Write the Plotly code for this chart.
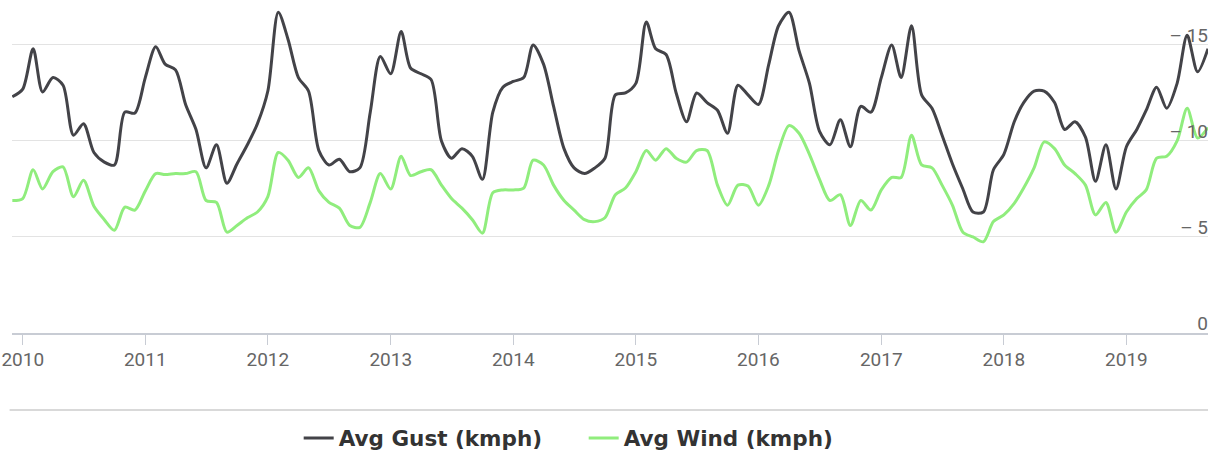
import pandas as pd
import plotly.graph_objects as go

# Monthly observations starting December 2009
months = pd.date_range("2009-12-01", periods=118, freq="MS")

avg_gust = [
    12.3, 12.7, 14.8, 12.55, 13.3, 12.9, 10.3, 10.9, 9.4, 8.9, 8.75, 11.5,
    11.45, 13.3, 14.9, 14.0, 13.7, 11.9, 10.6, 8.6, 9.8, 7.8, 8.8, 9.8,
    10.9, 12.6, 16.7, 15.3, 13.3, 12.6, 9.5, 8.75, 9.05, 8.4, 8.6, 11.5,
    14.4, 13.5, 15.7, 13.8, 13.5, 13.2, 10.0, 9.1, 9.6, 9.2, 8.0, 11.5,
    12.8, 13.1, 13.3, 15.0, 14.0, 11.8, 9.6, 8.6, 8.3, 8.6, 9.1, 12.4,
    12.5, 13.0, 16.2, 14.8, 14.5, 12.5, 11.0, 12.5, 12.0, 11.6, 10.4, 12.9,
    12.4, 11.9, 14.0, 16.0, 16.7, 14.7, 13.0, 10.5, 9.8, 11.1, 9.7, 11.8,
    11.5, 13.3, 15.0, 13.3, 16.0, 12.4, 11.7, 10.3, 8.8, 7.5, 6.3, 6.3,
    8.5, 9.3, 11.0, 12.0, 12.6, 12.6, 12.0, 10.6, 11.0, 10.2, 7.9, 9.8,
    7.5, 9.7, 10.6, 11.6, 12.8, 11.7, 13.0, 15.5, 13.6, 14.8,
]

avg_wind = [
    6.9, 7.0, 8.5, 7.5, 8.4, 8.65, 7.1, 7.95, 6.6, 5.9, 5.35, 6.55,
    6.4, 7.4, 8.3, 8.25, 8.3, 8.3, 8.4, 6.9, 6.8, 5.25, 5.6, 6.0,
    6.3, 7.1, 9.4, 9.0, 8.1, 8.6, 7.4, 6.8, 6.5, 5.6, 5.5, 6.8,
    8.3, 7.5, 9.2, 8.2, 8.4, 8.5, 7.7, 7.0, 6.5, 5.9, 5.2, 7.3,
    7.45, 7.45, 7.55, 9.0, 8.75, 7.7, 6.9, 6.4, 5.9, 5.8, 6.0, 7.2,
    7.55, 8.4, 9.5, 9.0, 9.6, 9.1, 8.9, 9.5, 9.5, 7.7, 6.65, 7.7,
    7.65, 6.65, 7.7, 9.5, 10.8, 10.4, 9.3, 8.0, 6.9, 7.2, 5.6, 6.9,
    6.4, 7.45, 8.1, 8.1, 10.3, 8.75, 8.6, 7.7, 6.65, 5.25, 5.0, 4.75,
    5.8, 6.15, 6.75, 7.55, 8.6, 9.95, 9.6, 8.75, 8.3, 7.7, 6.15, 6.8,
    5.25, 6.3, 7.0, 7.45, 9.1, 9.2, 10.0, 11.7, 10.15, 10.7,
]

x_tick_vals = [f"{y}-01-01" for y in range(2010, 2020)]
x_tick_text = [str(y) for y in range(2010, 2020)]
y_tick_vals = [0, 5, 10, 15]
y_tick_text = ["0", "\u2013 5", "\u2013 10", "\u2013 15"]

series_names = ["Avg Gust (kmph)", "Avg Wind (kmph)"]
series_colors = ["#434348", "#90ed7d"]

fig = go.Figure()
for name, vals, col in zip(series_names, [avg_gust, avg_wind], series_colors):
    fig.add_trace(go.Scatter(
        x=months, y=vals, name=name, mode="lines",
        line=dict(color=col, width=3, shape="spline", smoothing=0.8),
        hoverinfo="x+y+name",
    ))

tick_font = dict(family="Roboto, 'DejaVu Sans', sans-serif", size=19, color="#666666")

fig.update_layout(
    width=1208, height=452,
    margin=dict(l=12, r=0, t=0, b=119, pad=0, autoexpand=False),
    paper_bgcolor="white", plot_bgcolor="white",
    showlegend=True,
    legend=dict(
        orientation="h", x=0.478, xanchor="center",
        yref="container", y=0.031, yanchor="middle",
        font=dict(family="'DejaVu Sans', sans-serif", size=21.5, color="#333333",
                  weight=700),
        itemwidth=30, entrywidth=240, bgcolor="rgba(0,0,0,0)",
    ),
    xaxis=dict(
        type="date", range=["2009-11-30", "2019-09-01"],
        tickvals=x_tick_vals, ticktext=x_tick_text,
        showgrid=False, zeroline=False, automargin=False,
        showline=True, linecolor="#c8ccd4", linewidth=1.5,
        ticks="outside", ticklen=10, tickcolor="#c8ccd4", tickwidth=1,
        ticklabelstandoff=-2,
        tickfont=tick_font,
    ),
    yaxis=dict(
        range=[0, 17.34], side="left", anchor="free", position=1.0,
        tickvals=y_tick_vals, ticktext=y_tick_text,
        showgrid=True, gridcolor="#e3e3e3", gridwidth=1,
        zeroline=False, showline=False, ticks="", automargin=False,
        ticklabelshift=-10, ticklabelstandoff=0,
        tickfont=tick_font,
    ),
    shapes=[dict(
        type="line", xref="paper", yref="paper",
        x0=-0.002, x1=1.0, y0=-0.231, y1=-0.231,
        line=dict(color="#cccccc", width=1.5),
    )],
)

fig.write_html("out.html", config={"displayModeBar": False},
               post_script="document.body.style.margin='0';")
